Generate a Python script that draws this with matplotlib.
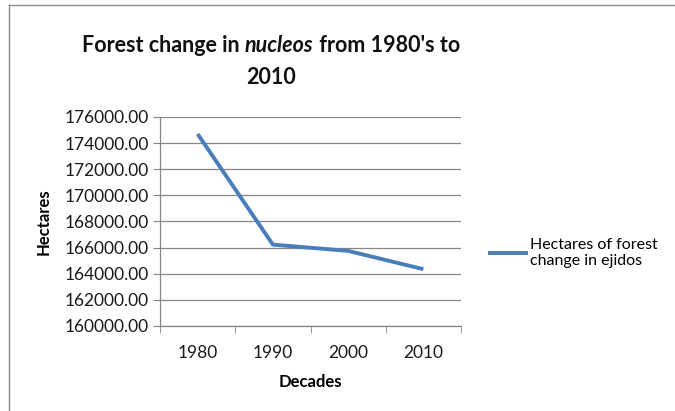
import matplotlib
matplotlib.use("Agg")
import matplotlib.pyplot as plt
from matplotlib.lines import Line2D

decades = ["1980", "1990", "2000", "2010"]
hectares = [174700, 166230, 165750, 164350]
yticks = [160000, 162000, 164000, 166000, 168000, 170000, 172000, 174000, 176000]
series_name = "Hectares of forest\nchange in ejidos"

FONT = "Lato"
plt.rcParams['font.family'] = [FONT, 'DejaVu Sans']

W, H = 675, 411
fig = plt.figure(figsize=(W / 100, H / 100), dpi=100)
fig.patch.set_facecolor("white")

# outer chart border (left and top edges visible)
bx, by = 8.5 / W, 1 - 5.5 / H
fig.add_artist(Line2D([bx, bx], [0, by], transform=fig.transFigure, color="#8c8c8c", linewidth=1.0))
fig.add_artist(Line2D([bx, 1], [by, by], transform=fig.transFigure, color="#8c8c8c", linewidth=1.0))

ax = fig.add_axes([160 / W, 1 - 326 / H, (461 - 160) / W, (326 - 117) / H])
x = list(range(len(decades)))
line, = ax.plot(x, hectares, color="#4a7ebb", linewidth=2.8, solid_capstyle="butt")

ax.set_xlim(-0.5, len(decades) - 0.5)
ax.set_ylim(160000, 176000)
ax.set_yticks(yticks)
ax.set_yticklabels([f"{v:.2f}" for v in yticks], fontsize=12.5, color="#1a1a1a")
ax.set_xticks(x)
ax.set_xticklabels(decades, fontsize=12.5, color="#1a1a1a")
ax.set_xticks([i - 0.5 for i in range(len(decades) + 1)], minor=True)
ax.tick_params(axis="x", which="major", length=0, pad=14)
ax.tick_params(axis="x", which="minor", length=5, color="#868686", direction="out")
ax.tick_params(axis="y", length=5, color="#868686", pad=3)

ax.grid(axis="y", color="#868686", linewidth=0.9)
ax.set_axisbelow(True)
for s in ["top", "right"]:
    ax.spines[s].set_visible(False)
for s in ["left", "bottom"]:
    ax.spines[s].set_color("#868686")
    ax.spines[s].set_linewidth(0.9)

ax.set_ylabel("Hectares", fontsize=12, fontweight="bold", labelpad=9)
ax.set_xlabel("Decades", fontsize=12, fontweight="bold", labelpad=9)

# legend
leg = fig.legend([line], [series_name], loc="center left",
                 bbox_to_anchor=(488 / W, 1 - 253 / H), frameon=False,
                 fontsize=11.5, handlelength=2.5, handletextpad=0.15, borderpad=0,
                 borderaxespad=0, labelspacing=0.2)

# title with italic word
renderer = fig.canvas.get_renderer()
ty = 1 - 45 / H
tsize = 15.5
parts = [("Forest change in ", "normal"), ("nucleos", "italic"), (" from 1980's to", "normal")]
texts = []
for s, style in parts:
    t = fig.text(0, ty, s, fontsize=tsize, fontweight="bold", fontstyle=style,
                 ha="left", va="center", color="#111111")
    texts.append(t)
widths = [t.get_window_extent(renderer).width for t in texts]
total = sum(widths)
cx = 271
cur = cx - total / 2
for t, w in zip(texts, widths):
    t.set_x(cur / W)
    cur += w
fig.text(cx / W, 1 - 77 / H, "2010", fontsize=tsize, fontweight="bold", ha="center",
         va="center", color="#111111")

fig.savefig("out.png", dpi=100, facecolor="white")
